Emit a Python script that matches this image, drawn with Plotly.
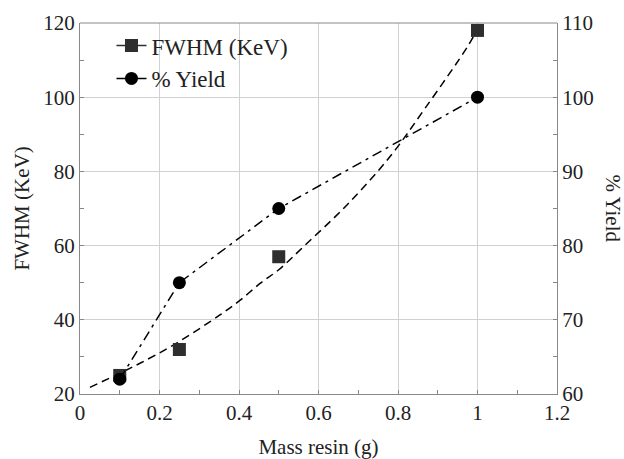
import plotly.graph_objects as go

# Measured data
mass = [0.1, 0.25, 0.5, 1.0]
fwhm = [25, 32, 57, 118]
yield_pct = [62, 75, 85, 100]

# Fitted FWHM curve
fit_x = [0.025, 0.1, 0.151, 0.235, 0.352, 0.403, 0.453, 0.5, 0.562, 0.671, 0.78, 0.868, 0.977, 1.0]
fit_y = [21.8, 25.6, 28.3, 33.2, 41.3, 45.3, 49.8, 53.5, 59.7, 70.9, 84.0, 97.0, 114.0, 118.5]

FONT = "Liberation Serif"

fig = go.Figure()

fig.add_trace(go.Scatter(x=fit_x, y=fit_y, mode="lines", line=dict(color="black", width=1.5, dash="8px,5px"),
                         line_shape="spline", showlegend=False, hoverinfo="skip"))
fig.add_trace(go.Scatter(x=mass, y=yield_pct, mode="lines", yaxis="y2",
                         line=dict(color="black", width=1.5, dash="10px,5px,3px,5px"),
                         showlegend=False))
fig.add_trace(go.Scatter(x=mass, y=fwhm, mode="markers",
                         marker=dict(symbol="square", size=13, color="#2e2e2e"), showlegend=False))
fig.add_trace(go.Scatter(x=mass, y=yield_pct, mode="markers", yaxis="y2",
                         marker=dict(symbol="circle", size=13, color="black"), showlegend=False))

# legend entries
fig.add_trace(go.Scatter(x=[None], y=[None], mode="lines+markers", name="FWHM (KeV)", legendgroup="a",
                         line=dict(color="#2e2e2e", width=1.5),
                         marker=dict(symbol="square", size=13, color="#2e2e2e")))
fig.add_trace(go.Scatter(x=[None], y=[None], mode="lines+markers", name="% Yield", legendgroup="b",
                         line=dict(color="black", width=1.5),
                         marker=dict(symbol="circle", size=13, color="black")))


def tfont():
    return dict(family=FONT, size=21, color="#222222")


def axis_common(grid=True):
    d = dict(showline=True, linecolor="#888888", linewidth=1, mirror=False, automargin=False,
             ticks="inside", ticklen=4, tickcolor="#888888", tickfont=tfont(), zeroline=False)
    if grid:
        d.update(gridcolor="#d0d0d0", gridwidth=1)
    return d


fig.update_layout(
    width=624, height=459,
    margin=dict(l=80, r=67, t=23, b=65),
    plot_bgcolor="white", paper_bgcolor="white",
    font=dict(family=FONT, color="#222222"),
    xaxis=dict(range=[0, 1.2], dtick=0.2, tick0=0,
               minor=dict(dtick=0.1, ticks="inside", ticklen=4, tickcolor="#888888", showgrid=False),
               title=dict(text="Mass resin (g)", font=tfont(), standoff=18),
               **axis_common()),
    yaxis=dict(range=[20, 120], dtick=20, tick0=20,
               minor=dict(dtick=10, ticks="inside", ticklen=4, tickcolor="#888888", showgrid=False),
               title=dict(text="FWHM (KeV)", font=tfont(), standoff=7),
               **axis_common()),
    yaxis2=dict(range=[60, 110], dtick=10, tick0=60, overlaying="y", side="right",
                minor=dict(dtick=5, ticks="inside", ticklen=4, tickcolor="#888888", showgrid=False),
                showgrid=False, **axis_common(False)),
    legend=dict(x=0.066, y=0.997, xanchor="left", yanchor="top", bgcolor="rgba(0,0,0,0)",
                font=dict(family=FONT, size=23, color="#222222"), tracegroupgap=0, traceorder="grouped"),
    shapes=[dict(type="line", xref="paper", yref="paper", x0=0, x1=1, y0=1, y1=1,
                 line=dict(color="#888888", width=1))],
    annotations=[dict(text="% Yield", xref="paper", yref="paper", x=1.0, xshift=56, y=0.5,
                      textangle=90, showarrow=False, font=tfont(),
                      xanchor="center", yanchor="middle")],
)

fig.write_html("out.html", config={"displayModeBar": False},
               post_script="document.body.style.margin='0';document.body.style.padding='0';")
